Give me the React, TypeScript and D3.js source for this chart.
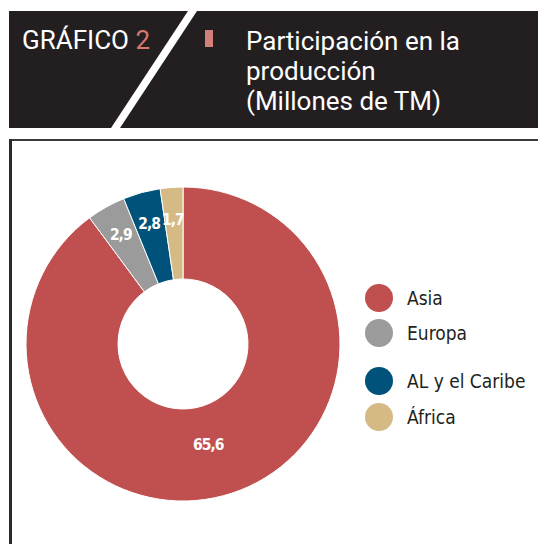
import { useEffect, useRef } from 'react'
import * as d3 from 'd3'

const regions = ['Asia', 'Europa', 'AL y el Caribe', 'África']
const values = [65.6, 2.9, 2.8, 1.7]
const valueLabels = ['65,6', '2,9', '2,8', '1,7']
const colors = ['#c0504f', '#9b9b9b', '#00527a', '#d5ba86']

export default function App() {
  const ref = useRef<SVGSVGElement>(null)

  useEffect(() => {
    if (!ref.current) return
    const svg = d3.select(ref.current)
    svg.selectAll('*').remove()

    const width = 538
    const height = 544
    const cond = '"DejaVu Sans Condensed", "DejaVu Sans", sans-serif'
    const head = 'Roboto, "Noto Sans", sans-serif'

    // Header
    svg.append('rect').attr('x', 9).attr('y', 11).attr('width', width - 9).attr('height', 117).attr('fill', '#231f20')
    svg
      .append('path')
      .attr('d', 'M188,11 L197,11 L120,128 L111,128 Z')
      .attr('fill', '#fff')

    const gr = svg.append('text').attr('x', 22).attr('y', 49).style('font-family', head).style('font-size', '26px').attr('fill', '#fff')
    gr.append('tspan').text('GRÁFICO ')
    gr.append('tspan').attr('fill', '#d9786c').text('2')

    svg.append('rect').attr('x', 205).attr('y', 30).attr('width', 8).attr('height', 17).attr('fill', '#d4807a')

    const title = svg.append('g').style('font-family', head).attr('fill', '#fff').style('font-size', '26px')
    title.append('text').attr('x', 246).attr('y', 50).text('Participación en la')
    title.append('text').attr('x', 246).attr('y', 80).text('producción')
    title.append('text').attr('x', 246).attr('y', 110).text('(Millones de TM)')

    // Frame
    svg.append('rect').attr('x', 9).attr('y', 139).attr('width', width - 9).attr('height', 2).attr('fill', '#3a3a3a')
    svg.append('rect').attr('x', 9).attr('y', 139).attr('width', 3).attr('height', height - 139).attr('fill', '#2a2a2a')

    // Donut
    const cx = 183
    const cy = 344
    const outer = 157
    const inner = 65

    const pie = d3.pie<number>().sort(null).value(d => d)
    const arcs = pie(values)
    const arc = d3.arc<d3.PieArcDatum<number>>().innerRadius(inner).outerRadius(outer)
    const bigArc = d3.arc<d3.PieArcDatum<number>>().innerRadius(106).outerRadius(106)
    const smallArc = d3.arc<d3.PieArcDatum<number>>().innerRadius(125).outerRadius(125)

    const g = svg.append('g').attr('transform', `translate(${cx},${cy})`)
    g.selectAll('path.slice')
      .data(arcs)
      .join('path')
      .attr('class', 'slice')
      .attr('d', arc)
      .attr('fill', (_, i) => colors[i])
      .attr('stroke', '#fff')
      .attr('stroke-width', 1)

    g.selectAll('text.lbl')
      .data(arcs)
      .join('text')
      .attr('class', 'lbl')
      .attr('transform', d => {
        const c = d.value > 10 ? bigArc.centroid(d) : smallArc.centroid(d)
        return `translate(${c[0] - (d.value > 10 ? 8 : 1)},${c[1]})`
      })
      .attr('text-anchor', 'middle')
      .attr('dy', '0.35em')
      .attr('fill', '#fff')
      .style('font-family', cond)
      .style('font-stretch', 'condensed')
      .style('font-weight', 'bold')
      .style('font-size', '15.5px')
      .style('letter-spacing', '-1px')
      .text((_, i) => valueLabels[i])

    // Legend
    const legend = svg.append('g')
    regions.forEach((r, i) => {
      const y = i < 2 ? 298 + i * 35 : 381 + (i - 2) * 36
      legend.append('circle').attr('cx', 379).attr('cy', y).attr('r', 14).attr('fill', colors[i])
      legend
        .append('text')
        .attr('x', 407)
        .attr('y', y)
        .attr('dy', '0.35em')
        .attr('fill', '#231f20')
        .style('font-family', cond)
        .style('font-stretch', 'condensed')
        .style('font-size', '19px')
        .text(r)
    })
  }, [])

  return <svg ref={ref} width={538} height={544} style={{ position: 'absolute', left: 0, top: 0 }} />
}
